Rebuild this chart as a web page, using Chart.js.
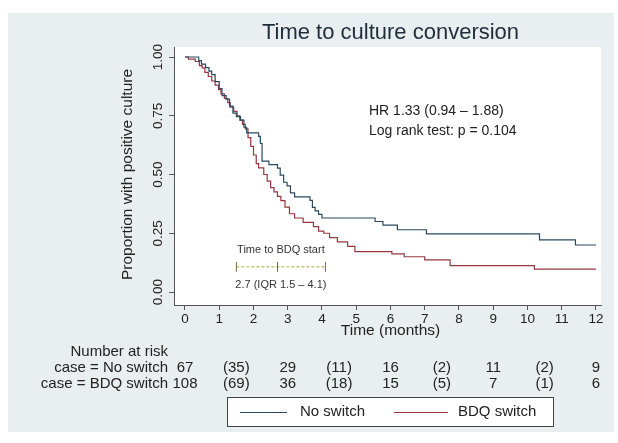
<!DOCTYPE html>
<html>
<head>
<meta charset="utf-8">
<script src="https://cdn.jsdelivr.net/npm/chart.js@4.4.1/dist/chart.umd.min.js"></script>
<style>
  html, body { margin: 0; padding: 0; background: #ffffff; }
  canvas { display: block; }
</style>
</head>
<body>
<canvas id="km" width="618" height="443"></canvas>
<script>
// Kaplan-Meier estimates: time in months, proportion still culture positive
const noSwitchTime = [0, 0.40, 0.48, 0.60, 0.70, 0.78, 0.88, 1.00, 1.08, 1.20, 1.30, 1.40, 1.50, 1.62, 1.72, 1.80,
  2.15, 2.20, 2.25, 2.45, 2.70, 2.78, 2.88, 2.98, 3.08, 3.20, 3.65, 3.72, 3.80, 3.90, 4.00,
  5.55, 5.78, 6.20, 7.05, 10.35, 11.40, 12.00];
const noSwitchSurv = [1.000, 0.985, 0.970, 0.955, 0.940, 0.925, 0.895, 0.866, 0.836, 0.821, 0.791, 0.761, 0.746, 0.731, 0.701, 0.677,
  0.662, 0.632, 0.557, 0.542, 0.527, 0.497, 0.467, 0.452, 0.422, 0.405, 0.390, 0.360, 0.345, 0.330, 0.315,
  0.300, 0.285, 0.265, 0.247, 0.222, 0.200, 0.200];

const bdqTime = [0, 0.10, 0.30, 0.42, 0.50, 0.58, 0.68, 0.78, 0.88, 0.98, 1.05, 1.15, 1.25, 1.32, 1.42, 1.52, 1.60, 1.68, 1.76,
  1.84, 1.92, 2.00, 2.08, 2.15, 2.30, 2.40, 2.50, 2.60, 2.70, 2.80, 2.92, 3.05, 3.20, 3.45, 3.75, 3.90, 4.05, 4.22, 4.45, 4.75, 4.96,
  6.04, 6.40, 7.00, 7.74, 10.20, 12.00];
const bdqSurv = [1.000, 0.991, 0.981, 0.963, 0.954, 0.935, 0.917, 0.898, 0.880, 0.861, 0.843, 0.824, 0.806, 0.787, 0.769, 0.750, 0.731, 0.713, 0.694,
  0.657, 0.620, 0.583, 0.546, 0.528, 0.500, 0.472, 0.444, 0.426, 0.407, 0.389, 0.361, 0.333, 0.315, 0.296, 0.278, 0.259, 0.250, 0.231, 0.213, 0.194, 0.172,
  0.162, 0.150, 0.137, 0.112, 0.097, 0.097];

// Time from enrolment to bedaquiline start: median and interquartile range
const bdqStartMedian = 2.7;
const bdqStartIqr = [1.5, 4.1];
const bdqStartLevel = 0.107;

// Number-at-risk table (censored counts in brackets)
const riskTimes = [0, 1.5, 3, 4.5, 6, 7.5, 9, 10.5, 12];
const riskNoSwitch = ['67', '(35)', '29', '(11)', '16', '(2)', '11', '(2)', '9'];
const riskBdqSwitch = ['108', '(69)', '36', '(18)', '15', '(5)', '7', '(1)', '6'];

const xTicks = [0, 1, 2, 3, 4, 5, 6, 7, 8, 9, 10, 11, 12];
const yTicks = [0, 0.25, 0.5, 0.75, 1];
const yTickLabels = ['0.00', '0.25', '0.50', '0.75', '1.00'];

const seriesNames = ['No switch', 'BDQ switch'];
const hrText = 'HR 1.33 (0.94 \u2013 1.88)';
const logRankText = 'Log rank test: p = 0.104';

const FONT = "'Liberation Sans', Arial, Helvetica, sans-serif";
const NAVY = '#2b4a60';
const MAROON = '#96383f';
const PANEL = '#e9eef1';
const AXIS = '#555555';
const TEXT = '#222222';

Chart.defaults.font.family = FONT;

const toPoints = (ts, ss) => ts.map((t, i) => ({ x: t, y: ss[i] }));

const decorations = {
  id: 'decorations',
  beforeDraw(chart) {
    const { ctx, chartArea: a } = chart;
    ctx.save();
    ctx.fillStyle = '#ffffff';
    ctx.fillRect(0, 0, chart.width, chart.height);
    ctx.fillStyle = PANEL;
    ctx.fillRect(8, 13, 606, 419);
    ctx.fillStyle = '#ffffff';
    ctx.fillRect(a.left, a.top, a.right - a.left, a.bottom - a.top);
    ctx.restore();
  },
  afterDraw(chart) {
    const { ctx, chartArea: a, scales: { x, y } } = chart;
    ctx.save();
    ctx.fillStyle = TEXT;

    // chart title
    ctx.font = `22px ${FONT}`;
    ctx.textAlign = 'center';
    ctx.textBaseline = 'middle';
    ctx.fillStyle = '#1f2d3b';
    ctx.fillText('Time to culture conversion', (a.left + a.right) / 2 + 3, 33);
    ctx.fillStyle = TEXT;

    // y tick labels, written vertically
    ctx.font = `13.5px ${FONT}`;
    yTicks.forEach((v, i) => {
      ctx.save();
      ctx.translate(158, y.getPixelForValue(v));
      ctx.rotate(-Math.PI / 2);
      ctx.fillText(yTickLabels[i], 0, 0);
      ctx.restore();
    });

    // axis titles
    ctx.font = `15.5px ${FONT}`;
    ctx.save();
    ctx.translate(128, (y.getPixelForValue(0) + y.getPixelForValue(1)) / 2);
    ctx.rotate(-Math.PI / 2);
    ctx.fillText('Proportion with positive culture', 0, 0);
    ctx.restore();
    ctx.fillText('Time (months)', (x.getPixelForValue(0) + x.getPixelForValue(12)) / 2, 331);

    // hazard ratio and log-rank annotation
    ctx.font = `14px ${FONT}`;
    ctx.textAlign = 'left';
    ctx.fillText(hrText, 369, 111);
    ctx.fillText(logRankText, 369, 131);

    // bedaquiline start interval labels
    ctx.font = `11px ${FONT}`;
    ctx.textAlign = 'center';
    ctx.fillStyle = '#333333';
    const midIqr = x.getPixelForValue((bdqStartIqr[0] + bdqStartIqr[1]) / 2);
    const levelPx = y.getPixelForValue(bdqStartLevel);
    ctx.fillText('Time to BDQ start', midIqr, levelPx - 17);
    ctx.fillText(`${bdqStartMedian} (IQR ${bdqStartIqr[0]} \u2013 ${bdqStartIqr[1]})`, midIqr, levelPx + 18);
    ctx.fillStyle = TEXT;

    // number-at-risk table
    ctx.font = `15px ${FONT}`;
    ctx.textAlign = 'right';
    ctx.fillText('Number at risk', 168, 352);
    ctx.fillText('case = No switch', 168, 368);
    ctx.fillText('case = BDQ switch', 168, 384);
    ctx.textAlign = 'center';
    riskTimes.forEach((t, i) => {
      const px = x.getPixelForValue(t);
      ctx.fillText(riskNoSwitch[i], px, 368);
      ctx.fillText(riskBdqSwitch[i], px, 384);
    });

    // legend
    const box = { l: 227, t: 397, r: 554, b: 427 };
    ctx.fillStyle = '#ffffff';
    ctx.fillRect(box.l, box.t, box.r - box.l, box.b - box.t);
    ctx.strokeStyle = '#444444';
    ctx.lineWidth = 1;
    ctx.strokeRect(box.l + 0.5, box.t + 0.5, box.r - box.l - 1, box.b - box.t - 1);
    const cy = (box.t + box.b) / 2;
    const entries = [
      { x0: 240, x1: 287, tx: 300, color: chart.data.datasets[0].borderColor, label: chart.data.datasets[0].label },
      { x0: 394, x1: 448, tx: 458, color: chart.data.datasets[1].borderColor, label: chart.data.datasets[1].label }
    ];
    ctx.textAlign = 'left';
    ctx.font = `15px ${FONT}`;
    entries.forEach(e => {
      ctx.strokeStyle = e.color;
      ctx.lineWidth = 1.2;
      ctx.beginPath();
      ctx.moveTo(e.x0, cy + 0.5);
      ctx.lineTo(e.x1, cy + 0.5);
      ctx.stroke();
      ctx.fillStyle = TEXT;
      ctx.fillText(e.label, e.tx, cy);
    });
    ctx.restore();
  }
};

new Chart(document.getElementById('km'), {
  type: 'line',
  data: {
    datasets: [
      {
        label: seriesNames[0],
        data: toPoints(noSwitchTime, noSwitchSurv),
        stepped: true,
        borderColor: NAVY,
        borderWidth: 1.2,
        pointRadius: 0,
        fill: false
      },
      {
        label: seriesNames[1],
        data: toPoints(bdqTime, bdqSurv),
        stepped: true,
        borderColor: MAROON,
        borderWidth: 1.2,
        pointRadius: 0,
        fill: false
      },
      {
        label: 'Time to BDQ start',
        data: [
          { x: bdqStartIqr[0], y: bdqStartLevel },
          { x: bdqStartMedian, y: bdqStartLevel },
          { x: bdqStartIqr[1], y: bdqStartLevel }
        ],
        borderColor: '#a4aa3a',
        borderWidth: 1,
        borderDash: [3, 2],
        pointStyle: 'line',
        rotation: 90,
        pointRadius: 5,
        pointBorderColor: '#6e7048',
        pointBorderWidth: 1,
        fill: false
      }
    ]
  },
  options: {
    responsive: false,
    animation: false,
    devicePixelRatio: 1,
    layout: { padding: { top: 47, right: 17, bottom: 0, left: 0 } },
    plugins: {
      legend: { display: false },
      tooltip: { enabled: false },
      title: { display: false }
    },
    scales: {
      x: {
        type: 'linear',
        min: -0.321,
        max: 12.146,
        afterBuildTicks: s => { s.ticks = xTicks.map(v => ({ value: v })); },
        afterFit: s => { s.height = 138; },
        grid: { drawOnChartArea: false, drawTicks: true, tickLength: 5, color: AXIS },
        border: { color: AXIS },
        ticks: { color: TEXT, font: { size: 13.5 }, padding: 1, maxRotation: 0, autoSkip: false, callback: v => String(v) }
      },
      y: {
        type: 'linear',
        min: -0.0553,
        max: 1.0426,
        afterBuildTicks: s => { s.ticks = yTicks.map(v => ({ value: v })); },
        afterFit: s => { s.width = 174; },
        grid: { drawOnChartArea: false, drawTicks: true, tickLength: 5, color: AXIS },
        border: { color: AXIS },
        ticks: { display: false }
      }
    }
  },
  plugins: [decorations]
});
</script>
</body>
</html>
